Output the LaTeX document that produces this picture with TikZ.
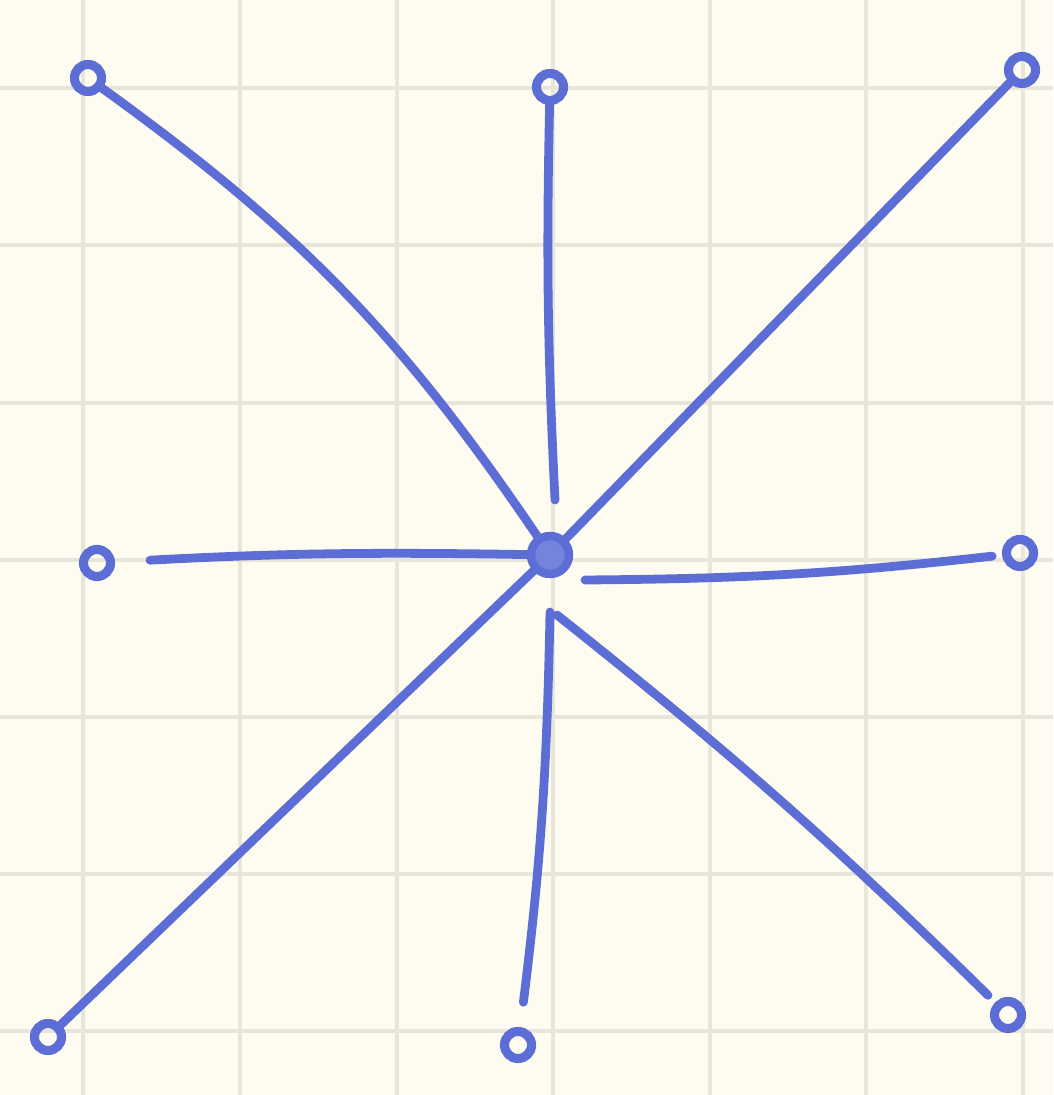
\documentclass[tikz,border=0pt]{standalone}
\usetikzlibrary{calc}
\definecolor{paper}{HTML}{FEFCF1}
\definecolor{gridc}{HTML}{E8E5DA}
\definecolor{pen}{RGB}{92,110,214}
\tikzset{
  gridline/.style={draw=gridc, line width=1.1pt},
  leaf/.style={circle, draw=pen, line width=2.6pt, minimum size=0.27cm, inner sep=0pt},
  hub/.style={circle, draw=pen, fill=pen!85, line width=2.4pt, minimum size=0.38cm, inner sep=0pt},
  spoke/.style={draw=pen, line width=2.5pt, line cap=round},
}
\begin{document}
\begin{tikzpicture}
\fill[paper] (0,0) rectangle (10.53,10.95);
\useasboundingbox (0,0) rectangle (10.53,10.95);
\foreach \x in {0.83,2.40,3.97,5.53,7.10,8.66,10.23} \draw[gridline] (\x,0) -- (\x,10.95);
\foreach \y in {10.07,8.50,6.92,5.35,3.78,2.21,0.64} \draw[gridline] (0,\y) -- (10.53,\y);

\node[hub] (c) at (5.50,5.40) {};
\node[leaf] (tl) at (0.88,10.17) {};
\node[leaf] (t) at (5.50,10.08) {};
\node[leaf] (tr) at (10.22,10.25) {};
\node[leaf] (l) at (0.97,5.32) {};
\node[leaf] (r) at (10.20,5.42) {};
\node[leaf] (bl) at (0.48,0.58) {};
\node[leaf] (b) at (5.18,0.50) {};
\node[leaf] (br) at (10.08,0.80) {};
\coordinate (ct) at (5.55,5.95);
\coordinate (cr) at (5.85,5.15);
\coordinate (cb) at (5.50,4.83);
\coordinate (cbr) at (5.57,4.80);

\draw[spoke] (tl) to[bend left=10] (c);
\draw[spoke] (t) to[bend right=2] (ct);
\draw[spoke] (tr) -- (c);
\draw[spoke, shorten <=0.35cm] (l) to[bend left=2] (c);
\draw[spoke, shorten <=0.1cm] (r) to[bend left=3] (cr);
\draw[spoke] (bl) -- (c);
\draw[spoke, shorten <=0.25cm] (b) to[bend right=3] (cb);
\draw[spoke, shorten <=0.1cm] (br) to[bend right=3] (cbr);
\end{tikzpicture}
\end{document}
